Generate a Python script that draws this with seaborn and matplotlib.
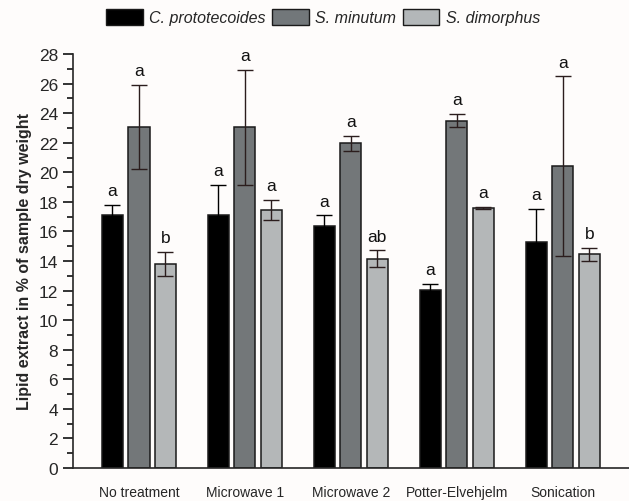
import pandas as pd
import numpy as np
import matplotlib.pyplot as plt
import seaborn as sns
from matplotlib.patches import Patch
from matplotlib.ticker import MultipleLocator

# values
treatments = ['No treatment', 'Microwave 1', 'Microwave 2', 'Potter-Elvehjelm', 'Sonication']
species = ['C. prototecoides', 'S. minutum', 'S. dimorphus']

c_proto = [17.1, 17.1, 16.4, 12.05, 15.3]
s_minutum = [23.05, 23.05, 21.95, 23.5, 20.4]
s_dimorphus = [13.8, 17.45, 14.15, 17.6, 14.45]

c_proto_err = [0.72, 2.05, 0.68, 0.4, 2.25]
s_minutum_err = [2.85, 3.9, 0.52, 0.47, 6.09]
s_dimorphus_err = [0.82, 0.67, 0.58, 0.08, 0.43]

letters_c = ['a', 'a', 'a', 'a', 'a']
letters_m = ['a', 'a', 'a', 'a', 'a']
letters_d = ['b', 'a', 'ab', 'a', 'b']

means = [c_proto, s_minutum, s_dimorphus]
errs = [c_proto_err, s_minutum_err, s_dimorphus_err]
letters = [letters_c, letters_m, letters_d]

rows = []
for sp, vals in zip(species, means):
    for t, v in zip(treatments, vals):
        rows.append({'Treatment': t, 'Species': sp, 'Lipid': v})
df = pd.DataFrame(rows)

colors = ['#000000', '#72777a', '#b3b7b9']
bg = '#fefcfb'

sns.set_style('ticks')
plt.rcParams['font.family'] = ['Liberation Sans', 'DejaVu Sans']

fig = plt.figure(figsize=(6.29, 5.02), dpi=100, facecolor=bg)
ax = fig.add_axes([72.7 / 629, 33 / 502, 1 - 72.7 / 629, (469 - 55) / 502])
ax.set_facecolor(bg)

sns.barplot(data=df, x='Treatment', y='Lipid', hue='Species', order=treatments,
            hue_order=species, palette=colors, width=0.75, gap=0.2,
            errorbar=None, edgecolor='#1a1a1a', linewidth=1.1, legend=False, ax=ax)

# error bars and significance letters
for cont, e, lab, c in zip(ax.containers, errs, letters, colors):
    ecol = '#000000' if c == '#000000' else '#2b1d1d'
    for bar, ev, l in zip(cont, e, lab):
        xc = bar.get_x() + bar.get_width() / 2
        h = bar.get_height()
        ax.errorbar(xc, h, yerr=ev, fmt='none', ecolor=ecol, elinewidth=1.0,
                    capsize=6, capthick=1.0, zorder=3)
        ax.text(xc, h + ev + 0.45, l, ha='center', va='bottom', fontsize=12.5,
                color='#111111')

ax.set_xlim(-0.625, 4.625)
ax.set_ylim(0, 28)
ax.yaxis.set_major_locator(MultipleLocator(2))
ax.yaxis.set_minor_locator(MultipleLocator(1))
ax.tick_params(axis='y', which='major', length=7, width=1.2, labelsize=12.5, color='#111111')
ax.tick_params(axis='y', which='minor', length=4, width=1.2, color='#111111')
ax.tick_params(axis='x', length=0, pad=12, labelsize=10)
ax.set_xlabel('')
ax.set_ylabel('Lipid extract in % of sample dry weight', fontsize=11.5,
              fontweight='bold', labelpad=5)
for s in ['top', 'right']:
    ax.spines[s].set_visible(False)
ax.spines['left'].set_linewidth(1.2)
ax.spines['bottom'].set_linewidth(1.2)

handles = [Patch(facecolor=c, edgecolor='#1a1a1a', linewidth=1.0) for c in colors]
fig.legend(handles, species, loc='center', bbox_to_anchor=(323 / 629, 1 - 18 / 502),
           ncol=3, frameon=False, prop={'style': 'italic', 'size': 11.5},
           handlelength=2.3, handleheight=1.15, handletextpad=0.4, columnspacing=0.4)

plt.savefig('out.png', dpi=100, facecolor=bg)
